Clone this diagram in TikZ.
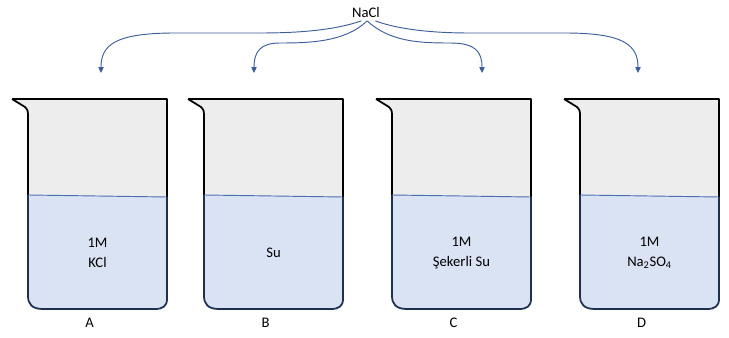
\documentclass[tikz,border=0pt]{standalone}
\usepackage{fontspec}
\setmainfont{Carlito}
\usetikzlibrary{arrows.meta}

\definecolor{glass}{HTML}{EDEDED}
\definecolor{water}{HTML}{DAE3F3}
\definecolor{waterline}{HTML}{4A6FB0}
\definecolor{navy}{HTML}{1F2F50}
\definecolor{arrowblue}{HTML}{3E5E9A}

\tikzset{
  wall/.style={draw=black, line width=1.5pt, line join=round},
  flow/.style={draw=arrowblue, line width=0.8pt, -{Triangle[length=5pt,width=4.5pt]}},
  txt/.style={font=\fontsize{12.5}{17}\selectfont, align=center, inner sep=0pt}
}

\begin{document}
\begin{tikzpicture}[x=0.03cm, y=-0.03cm]
\useasboundingbox (0,0) rectangle (729,338);

\foreach \x/\lab/\sol in {28/A/{1M\\KCl}, 204/B/{Su}, 392/C/{1M\\Şekerli Su}, 580/D/{1M\\Na\textsubscript{2}SO\textsubscript{4}}}{
  \begin{scope}[shift={(\x,0)}]
    % glass
    \fill[glass] (-16,99) -- (139,99) -- (139,299) .. controls (139,306) and (135,309) .. (127,309)
      -- (15,309) .. controls (4,309) and (0,304) .. (0,296) -- (0,115)
      .. controls (0,110) and (-1,109) .. (-3,107) -- cycle;
    % solution
    \fill[water] (0,195) -- (139,197) -- (139,299) .. controls (139,306) and (135,309) .. (127,309)
      -- (15,309) .. controls (4,309) and (0,304) .. (0,296) -- cycle;
    \draw[wall] (-16,99) -- (139,99) -- (139,197);
    \draw[wall] (0,195) -- (0,115) .. controls (0,110) and (-1,109) .. (-3,107) -- (-16,99);
    \draw[wall, draw=navy] (139,197) -- (139,299) .. controls (139,306) and (135,309) .. (127,309)
      -- (15,309) .. controls (4,309) and (0,304) .. (0,296) -- (0,195);
    \draw[waterline, line width=0.8pt] (0,195) -- (139,197);
    \node[txt] (sol\lab) at (69.5,253) {\sol};
    \node[txt] (lbl\lab) at (61.5,323) {\lab};
  \end{scope}
}

\node[txt] (nacl) at (366,12) {NaCl};
\coordinate (tA) at (101,73);
\coordinate (tB) at (254,73);
\coordinate (tC) at (482,73);
\coordinate (tD) at (638,73);

\draw[flow] ([xshift=-4pt, yshift=-3pt]nacl.south) .. controls (335,30) and (300,33) .. (260,33)
  -- (175,33) .. controls (115,33) and (101,45) .. (tA);
\draw[flow] ([xshift=1pt, yshift=-3pt]nacl.south) .. controls (345,42) and (310,43) .. (280,43)
  .. controls (260,43) and (254,52) .. (tB);
\draw[flow] ([xshift=1pt, yshift=-3pt]nacl.south) .. controls (390,42) and (420,43) .. (450,43)
  .. controls (476,43) and (482,52) .. (tC);
\draw[flow] ([xshift=8pt, yshift=-3pt]nacl.south) .. controls (400,30) and (435,33) .. (470,33)
  -- (565,33) .. controls (624,33) and (638,45) .. (tD);

\end{tikzpicture}
\end{document}
